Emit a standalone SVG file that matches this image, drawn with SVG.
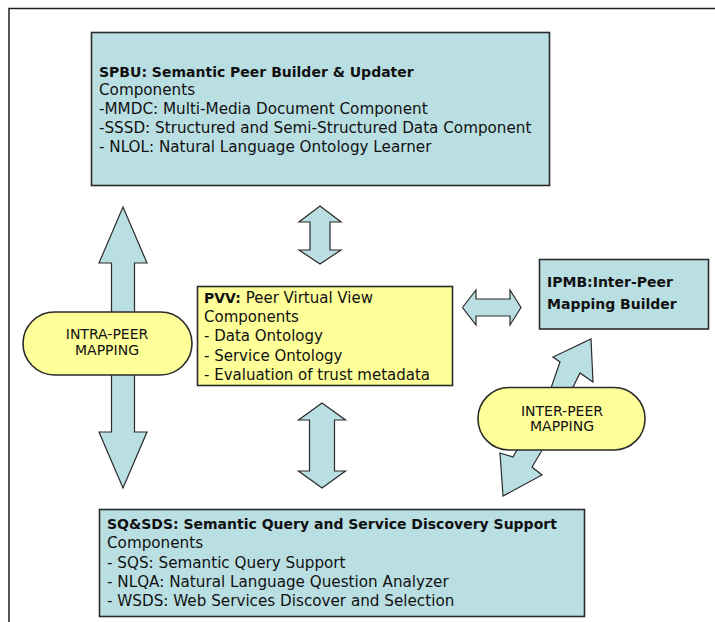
<svg xmlns="http://www.w3.org/2000/svg" width="715" height="622" viewBox="0 0 715 622">
  <style>
    .box { fill: #badfe3; stroke: #2b2b2b; stroke-width: 1.6; }
    .note { fill: #ffff99; stroke: #2b2b2b; stroke-width: 1.6; }
    .arrow { fill: #badfe3; stroke: #2b2b2b; stroke-width: 1.2; stroke-linejoin: miter; }
    .frame { fill: none; stroke: #222; stroke-width: 1.5; }
    text { font-family: "DejaVu Sans", "Liberation Sans", sans-serif; fill: #111; }
    .title { font-weight: bold; font-size: 14px; }
    .body { font-size: 15.2px; }
    .pvv { font-size: 15px; }
    .pill { font-size: 14px; text-anchor: middle; }
  </style>

  <rect width="715" height="622" fill="#ffffff"/>
  <!-- outer frame (top and left edges only) -->
  <path class="frame" d="M9,622 V8.5 H715"/>

  <!-- connectors -->
  <g id="connectors">
    <!-- intra-peer: SPBU <-> SQ&SDS -->
    <polygon class="arrow" points="123,207 147,263 134.5,263 134.5,432 147,432 123,488 99,432 111.5,432 111.5,263 99,263"/>
    <!-- SPBU <-> PVV -->
    <polygon class="arrow" points="320,206 341,222 330,222 330,250 341,250 320,264 299,250 310,250 310,222 299,222"/>
    <!-- PVV <-> SQ&SDS -->
    <polygon class="arrow" points="322,403 345.5,420 334.5,420 334.5,471 345.5,471 322,488 298.5,471 309.5,471 309.5,420 298.5,420"/>
    <!-- PVV <-> IPMB -->
    <polygon class="arrow" points="462.5,307.5 476,290 476,299 510,299 510,290 521,307.5 510,325 510,316 476,316 476,325"/>
    <!-- inter-peer: IPMB <-> SQ&SDS -->
    <polygon class="arrow" points="591,339 593,382 580,373 541,452 532,467 542,475 503,496 500,453 513,457 551,388 560,362 553,357"/>
  </g>

  <!-- SPBU -->
  <g id="spbu">
    <rect class="box" x="91.5" y="32.5" width="458" height="153"/>
    <text class="title" x="99" y="77">SPBU: Semantic Peer Builder &amp; Updater</text>
    <text class="body" x="99" y="95">Components</text>
    <text class="body" x="99" y="114">-MMDC: Multi-Media Document Component</text>
    <text class="body" x="99" y="133">-SSSD: Structured and Semi-Structured Data Component</text>
    <text class="body" x="99" y="152">- NLOL: Natural Language Ontology Learner</text>
  </g>

  <!-- PVV -->
  <g id="pvv">
    <rect class="note" x="197.5" y="286.5" width="255" height="99"/>
    <text class="pvv" x="204" y="303"><tspan font-weight="bold" font-size="14px">PVV:</tspan> Peer Virtual View</text>
    <text class="pvv" x="204" y="322">Components</text>
    <text class="pvv" x="204" y="341">- Data Ontology</text>
    <text class="pvv" x="204" y="361">- Service Ontology</text>
    <text class="pvv" x="204" y="380">- Evaluation of trust metadata</text>
  </g>

  <!-- IPMB -->
  <g id="ipmb">
    <rect class="box" x="539.5" y="259.5" width="169" height="69.5"/>
    <text class="title" x="547" y="287">IPMB:Inter-Peer</text>
    <text class="title" x="547" y="309">Mapping Builder</text>
  </g>

  <!-- INTRA-PEER MAPPING label -->
  <g id="intra-peer">
    <rect class="note" x="23" y="312" width="169" height="63" rx="31.5"/>
    <text class="pill" x="107" y="339">INTRA-PEER</text>
    <text class="pill" x="107" y="355">MAPPING</text>
  </g>

  <!-- INTER-PEER MAPPING label -->
  <g id="inter-peer">
    <rect class="note" x="478" y="387.5" width="167" height="62.5" rx="31"/>
    <text class="pill" x="562" y="416">INTER-PEER</text>
    <text class="pill" x="562" y="431">MAPPING</text>
  </g>

  <!-- SQ&SDS -->
  <g id="sqsds">
    <rect class="box" x="99.5" y="509.5" width="485" height="107"/>
    <text class="title" x="107" y="529">SQ&amp;SDS: Semantic Query and Service Discovery Support</text>
    <text class="body" x="107" y="548">Components</text>
    <text class="body" x="107" y="568">- SQS: Semantic Query Support</text>
    <text class="body" x="107" y="587">- NLQA: Natural Language Question Analyzer</text>
    <text class="body" x="107" y="606">- WSDS: Web Services Discover and Selection</text>
  </g>
</svg>
